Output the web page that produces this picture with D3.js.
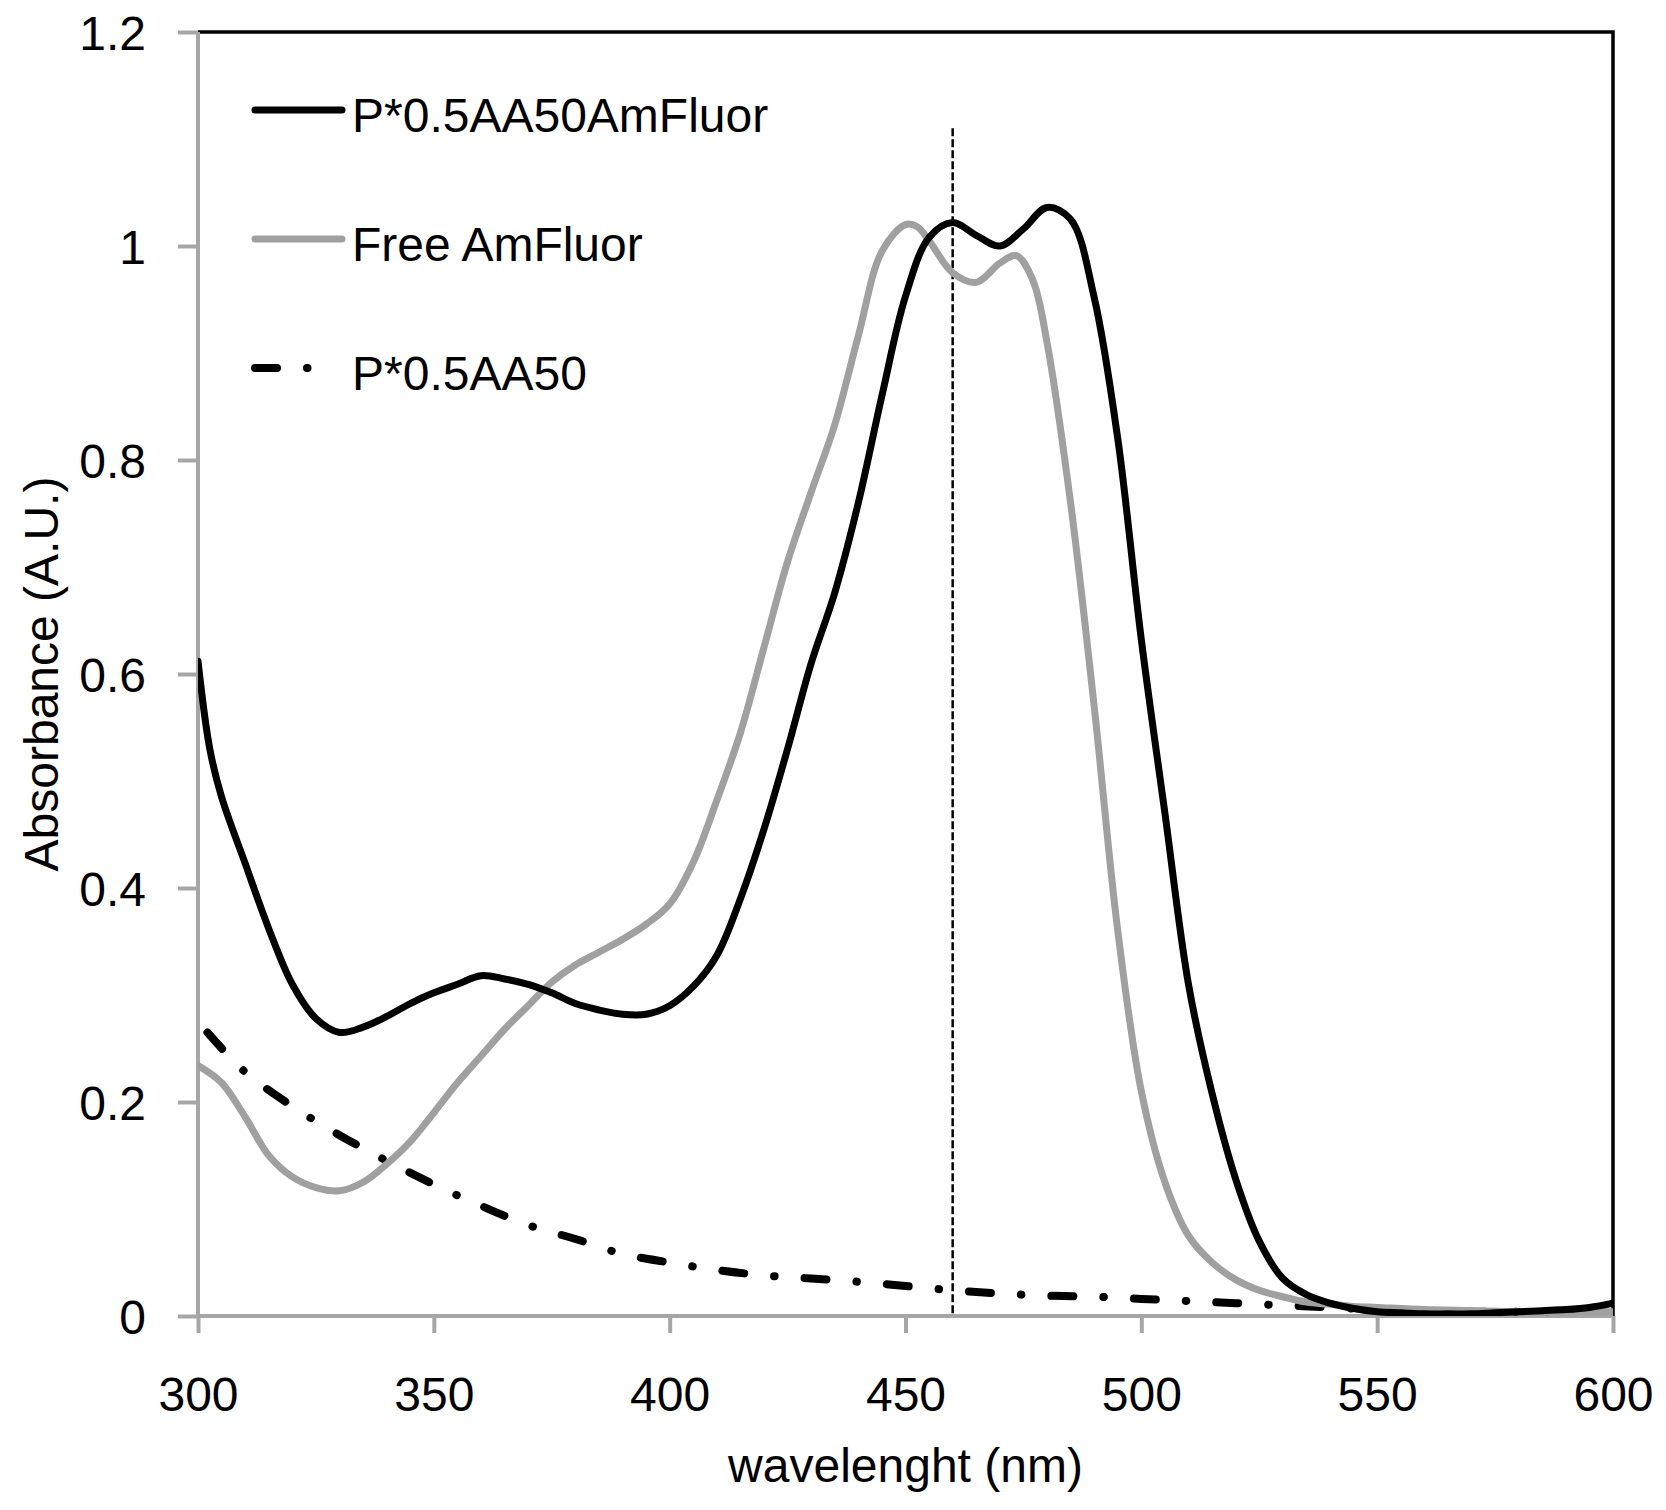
<!DOCTYPE html>
<html>
<head>
<meta charset="utf-8">
<script src="https://cdn.jsdelivr.net/npm/d3@7"></script>
<style>
  body { margin: 0; background: #fff; }
  text { font-family: "Liberation Sans", Arial, sans-serif; fill: #000; }
</style>
</head>
<body>
<div id="chart"></div>
<script>
// ---- data ----
var seriesNames = ["P*0.5AA50AmFluor", "Free AmFluor", "P*0.5AA50"];

var conjNm  = [300,302.5,305,310,315,320,325,330,335,340,345,350,355,360,365,370,375,380,385,390,395,400,405,410,415,420,425,430,435,440,445,450,455,460,465,470,475,480,485,490,495,500,505,510,515,520,525,530,535,540,545,550,555,560,565,570,575,580,585,590,595,600];
var conjAbs = [0.612,0.53,0.485,0.423,0.362,0.31,0.278,0.265,0.27,0.28,0.292,0.302,0.31,0.318,0.315,0.31,0.302,0.292,0.286,0.282,0.282,0.29,0.308,0.337,0.39,0.455,0.53,0.61,0.676,0.76,0.86,0.953,1.008,1.022,1.01,1.0,1.016,1.036,1.025,0.952,0.82,0.632,0.47,0.31,0.208,0.128,0.07,0.035,0.02,0.012,0.007,0.004,0.003,0.002,0.002,0.002,0.003,0.004,0.005,0.006,0.008,0.012];

var freeNm  = [300,305,310,315,320,325,330,335,340,345,350,355,360,365,370,375,380,385,390,395,400,405,410,415,420,425,430,435,440,445,450,452.5,455,460,465,470,473.5,477,480,485,490,495,500,505,510,515,520,525,530,535,540,545,550,560,570,580,590,600];
var freeAbs = [0.234,0.218,0.186,0.15,0.13,0.12,0.117,0.125,0.142,0.163,0.19,0.218,0.243,0.268,0.29,0.312,0.328,0.34,0.352,0.366,0.385,0.424,0.482,0.545,0.625,0.705,0.77,0.833,0.916,0.995,1.02,1.018,1.005,0.975,0.966,0.984,0.991,0.968,0.91,0.76,0.57,0.36,0.21,0.125,0.075,0.05,0.034,0.024,0.018,0.013,0.011,0.009,0.008,0.006,0.005,0.004,0.004,0.004];

var polyNm  = [302,310,320,330,340,350,360,370,380,390,400,410,420,430,440,450,460,470,480,490,500,510,520,530,540,550,560,570,580,590,600];
var polyAbs = [0.265,0.228,0.196,0.169,0.145,0.123,0.103,0.085,0.072,0.058,0.05,0.043,0.038,0.035,0.032,0.028,0.024,0.021,0.019,0.018,0.016,0.014,0.012,0.01,0.008,0.006,0.005,0.004,0.004,0.005,0.006];

var xTicks = [300, 350, 400, 450, 500, 550, 600];
var yTicks = [0, 0.2, 0.4, 0.6, 0.8, 1, 1.2];
var markerNm = 460, markerTop = 1.11;

// ---- layout ----
var W = 1666, H = 1510;
var margin = {top: 32, right: 53, bottom: 194, left: 198};
var width = W - margin.left - margin.right,
    height = H - margin.top - margin.bottom;

var svg = d3.select("#chart").append("svg")
    .attr("width", W)
    .attr("height", H);

svg.append("rect").attr("width", W).attr("height", H).attr("fill", "#fff");

var g = svg.append("g")
    .attr("transform", "translate(" + margin.left + "," + margin.top + ")");

var x = d3.scaleLinear().domain([300, 600]).range([0, width]);
var y = d3.scaleLinear().domain([0, 1.2]).range([height, 0]);

g.append("clipPath").attr("id", "clip")
  .append("rect").attr("width", width).attr("height", height);

// top and right border
g.append("path")
    .attr("d", "M0,0H" + width + "V" + height)
    .attr("fill", "none")
    .attr("stroke", "#000")
    .attr("stroke-width", 3.5);

// axes
var xAxis = d3.axisBottom(x).tickValues(xTicks).tickSize(17).tickPadding(44).tickFormat(d3.format("d"));
var yAxis = d3.axisLeft(y).tickValues(yTicks).tickSize(20).tickPadding(32)
    .tickFormat(function(d) { return String(+d.toFixed(1)); });

var gx = g.append("g").attr("transform", "translate(0," + height + ")").call(xAxis);
var gy = g.append("g").call(yAxis);

[gx, gy].forEach(function(a) {
  a.select(".domain").attr("stroke", "#a6a6a6").attr("stroke-width", 4);
  a.selectAll(".tick line").attr("stroke", "#a6a6a6").attr("stroke-width", 4);
  a.selectAll("text").style("font-size", "48px").attr("fill", "#000");
});
gx.select(".domain").attr("d", "M0,0H" + width);
gy.select(".domain").attr("d", "M0," + height + "V0");
gy.selectAll(".tick text").attr("dy", "0.36em");
gx.selectAll(".tick text").attr("dy", "0.71em");

// marker line
g.append("line")
    .attr("x1", x(markerNm)).attr("x2", x(markerNm))
    .attr("y1", y(markerTop)).attr("y2", y(0))
    .attr("stroke", "#000")
    .attr("stroke-width", 2.5)
    .attr("stroke-dasharray", "8,3");

// curves
var line = d3.line()
    .x(function(d) { return x(d[0]); })
    .y(function(d) { return y(d[1]); })
    .curve(d3.curveCatmullRom.alpha(0.5));

var styles = [
  {color: "#000", dash: null, width: 7, legendEnd: 342},
  {color: "#a0a0a0", dash: null, width: 7, legendEnd: 342},
  {color: "#000", dash: "22,30,0.5,30", width: 8, legendEnd: 310}
];
var series = [
  d3.zip(conjNm, conjAbs),
  d3.zip(freeNm, freeAbs),
  d3.zip(polyNm, polyAbs)
];

var plot = g.append("g").attr("clip-path", "url(#clip)");
[2, 1, 0].forEach(function(i) {
  plot.append("path")
      .datum(series[i])
      .attr("d", line)
      .attr("fill", "none")
      .attr("stroke", styles[i].color)
      .attr("stroke-width", styles[i].width)
      .attr("stroke-linecap", "round")
      .attr("stroke-linejoin", "round")
      .attr("stroke-dasharray", styles[i].dash);
});

// legend
var legend = svg.selectAll(".legend")
    .data(seriesNames)
    .enter().append("g")
    .attr("class", "legend")
    .attr("transform", function(d, i) { return "translate(0," + (110 + i * 129) + ")"; });

legend.append("line")
    .attr("x1", 255).attr("x2", function(d, i) { return styles[i].legendEnd; })
    .attr("y1", 0).attr("y2", 0)
    .attr("stroke", function(d, i) { return styles[i].color; })
    .attr("stroke-width", function(d, i) { return styles[i].width; })
    .attr("stroke-linecap", "round")
    .attr("stroke-dasharray", function(d, i) { return styles[i].dash; });

legend.append("text")
    .attr("x", 352)
    .attr("y", 22)
    .style("font-size", "48px")
    .text(function(d) { return d; });

// axis titles
svg.append("text")
    .attr("x", margin.left + width / 2)
    .attr("y", 1482)
    .attr("text-anchor", "middle")
    .style("font-size", "48px")
    .text("wavelenght (nm)");

svg.append("text")
    .attr("transform", "translate(58," + (margin.top + height / 2) + ") rotate(-90)")
    .attr("text-anchor", "middle")
    .style("font-size", "48px")
    .text("Absorbance (A.U.)");
</script>
</body>
</html>
